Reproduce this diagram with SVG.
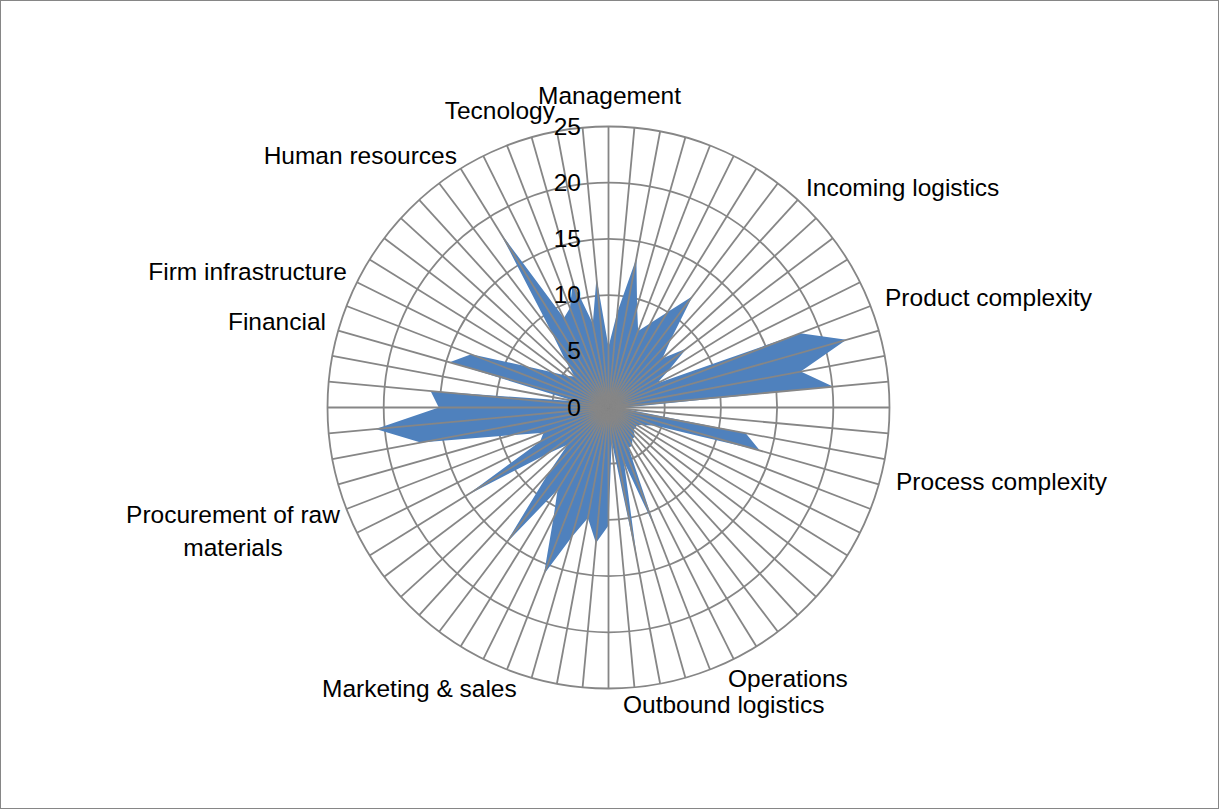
<svg xmlns="http://www.w3.org/2000/svg" width="1219" height="809" viewBox="0 0 1219 809">
<style>
.grid{fill:none;stroke:#868686;stroke-width:1.8}
.lbl{font-family:"Liberation Sans",Arial,sans-serif;font-size:24.5px;fill:#000}
.tick{font-family:"Liberation Sans",Arial,sans-serif;font-size:24.5px;fill:#000;text-anchor:end}
</style>
<defs>
<line id="sp" x1="608.5" y1="407.5" x2="608.5" y2="126.5" stroke="#868686" stroke-width="1.8"/>
</defs>
<rect x="0.5" y="0.5" width="1218" height="808" fill="#fff" stroke="#868686" stroke-width="1"/>
<g id="rings" class="grid">
<circle cx="608.5" cy="407.5" r="56.2"/>
<circle cx="608.5" cy="407.5" r="112.4"/>
<circle cx="608.5" cy="407.5" r="168.6"/>
<circle cx="608.5" cy="407.5" r="224.8"/>
<circle cx="608.5" cy="407.5" r="281"/>
</g>
<g id="series">
<polygon fill="#4F81BD" points="608.5,346.8 617.32,312.37 636.38,258.34 637.11,306.96 638.14,330.99 650.59,322.98 667.67,311.94 692.5,296.27 671.35,338.56 662.49,358.28 686.54,348.57 668.7,370.22 656.79,383.45 800.3,333.2 846.34,339.83 800.75,371.56 833.46,386.65 625.36,407.5 625.29,409.06 745.51,433.11 759.85,450.56 655.66,425.77 643.72,425.03 637.17,425.25 635.41,427.82 633.42,430.22 635,436.57 632.21,438.89 632.17,445.73 628.54,447.75 655.6,529.07 623.88,461.56 637.42,562.18 611.61,441.08 608.5,525.52 595.95,542.92 587.85,517.99 571.59,537.23 543.94,574.15 553.39,518.18 557.61,489.68 505.54,543.84 547.92,473.95 567.8,444.61 546.61,454.24 466.11,495.67 540.08,441.57 543.52,432.67 511.2,435.18 420.68,442.61 375.71,429.07 438.78,407.5 430.54,391.01 575.35,401.3 449.58,362.28 471.2,354.31 524.99,365.92 551.16,372 566.34,375.66 574.45,376.46 565.34,360.15 551.6,332.15 499.62,231.66 563.91,317.95 569.93,307.93 572.82,282.1 592.8,323.54 596.47,277.68"/>
</g>
<g id="spokes">
<use href="#sp"/>
<use href="#sp" transform="rotate(5.294 608.5 407.5)"/>
<use href="#sp" transform="rotate(10.588 608.5 407.5)"/>
<use href="#sp" transform="rotate(15.882 608.5 407.5)"/>
<use href="#sp" transform="rotate(21.176 608.5 407.5)"/>
<use href="#sp" transform="rotate(26.471 608.5 407.5)"/>
<use href="#sp" transform="rotate(31.765 608.5 407.5)"/>
<use href="#sp" transform="rotate(37.059 608.5 407.5)"/>
<use href="#sp" transform="rotate(42.353 608.5 407.5)"/>
<use href="#sp" transform="rotate(47.647 608.5 407.5)"/>
<use href="#sp" transform="rotate(52.941 608.5 407.5)"/>
<use href="#sp" transform="rotate(58.235 608.5 407.5)"/>
<use href="#sp" transform="rotate(63.529 608.5 407.5)"/>
<use href="#sp" transform="rotate(68.824 608.5 407.5)"/>
<use href="#sp" transform="rotate(74.118 608.5 407.5)"/>
<use href="#sp" transform="rotate(79.412 608.5 407.5)"/>
<use href="#sp" transform="rotate(84.706 608.5 407.5)"/>
<use href="#sp" transform="rotate(90 608.5 407.5)"/>
<use href="#sp" transform="rotate(95.294 608.5 407.5)"/>
<use href="#sp" transform="rotate(100.588 608.5 407.5)"/>
<use href="#sp" transform="rotate(105.882 608.5 407.5)"/>
<use href="#sp" transform="rotate(111.176 608.5 407.5)"/>
<use href="#sp" transform="rotate(116.471 608.5 407.5)"/>
<use href="#sp" transform="rotate(121.765 608.5 407.5)"/>
<use href="#sp" transform="rotate(127.059 608.5 407.5)"/>
<use href="#sp" transform="rotate(132.353 608.5 407.5)"/>
<use href="#sp" transform="rotate(137.647 608.5 407.5)"/>
<use href="#sp" transform="rotate(142.941 608.5 407.5)"/>
<use href="#sp" transform="rotate(148.235 608.5 407.5)"/>
<use href="#sp" transform="rotate(153.529 608.5 407.5)"/>
<use href="#sp" transform="rotate(158.824 608.5 407.5)"/>
<use href="#sp" transform="rotate(164.118 608.5 407.5)"/>
<use href="#sp" transform="rotate(169.412 608.5 407.5)"/>
<use href="#sp" transform="rotate(174.706 608.5 407.5)"/>
<use href="#sp" transform="rotate(180 608.5 407.5)"/>
<use href="#sp" transform="rotate(185.294 608.5 407.5)"/>
<use href="#sp" transform="rotate(190.588 608.5 407.5)"/>
<use href="#sp" transform="rotate(195.882 608.5 407.5)"/>
<use href="#sp" transform="rotate(201.176 608.5 407.5)"/>
<use href="#sp" transform="rotate(206.471 608.5 407.5)"/>
<use href="#sp" transform="rotate(211.765 608.5 407.5)"/>
<use href="#sp" transform="rotate(217.059 608.5 407.5)"/>
<use href="#sp" transform="rotate(222.353 608.5 407.5)"/>
<use href="#sp" transform="rotate(227.647 608.5 407.5)"/>
<use href="#sp" transform="rotate(232.941 608.5 407.5)"/>
<use href="#sp" transform="rotate(238.235 608.5 407.5)"/>
<use href="#sp" transform="rotate(243.529 608.5 407.5)"/>
<use href="#sp" transform="rotate(248.824 608.5 407.5)"/>
<use href="#sp" transform="rotate(254.118 608.5 407.5)"/>
<use href="#sp" transform="rotate(259.412 608.5 407.5)"/>
<use href="#sp" transform="rotate(264.706 608.5 407.5)"/>
<use href="#sp" transform="rotate(270 608.5 407.5)"/>
<use href="#sp" transform="rotate(275.294 608.5 407.5)"/>
<use href="#sp" transform="rotate(280.588 608.5 407.5)"/>
<use href="#sp" transform="rotate(285.882 608.5 407.5)"/>
<use href="#sp" transform="rotate(291.176 608.5 407.5)"/>
<use href="#sp" transform="rotate(296.471 608.5 407.5)"/>
<use href="#sp" transform="rotate(301.765 608.5 407.5)"/>
<use href="#sp" transform="rotate(307.059 608.5 407.5)"/>
<use href="#sp" transform="rotate(312.353 608.5 407.5)"/>
<use href="#sp" transform="rotate(317.647 608.5 407.5)"/>
<use href="#sp" transform="rotate(322.941 608.5 407.5)"/>
<use href="#sp" transform="rotate(328.235 608.5 407.5)"/>
<use href="#sp" transform="rotate(333.529 608.5 407.5)"/>
<use href="#sp" transform="rotate(338.824 608.5 407.5)"/>
<use href="#sp" transform="rotate(344.118 608.5 407.5)"/>
<use href="#sp" transform="rotate(349.412 608.5 407.5)"/>
<use href="#sp" transform="rotate(354.706 608.5 407.5)"/>
</g>
<g id="ticks" class="tick">
<text x="581" y="135">25</text>
<text x="581" y="191">20</text>
<text x="581" y="247">15</text>
<text x="581" y="303">10</text>
<text x="581" y="359">5</text>
<text x="581" y="416">0</text>
</g>
<g id="categories" class="lbl">
<text x="609.5" y="104" text-anchor="middle">Management</text>
<text x="555" y="119" text-anchor="end">Tecnology</text>
<text x="457" y="164" text-anchor="end">Human resources</text>
<text x="347" y="280" text-anchor="end">Firm infrastructure</text>
<text x="326" y="330" text-anchor="end">Financial</text>
<text x="233" y="523" text-anchor="middle">Procurement of raw</text>
<text x="233" y="556" text-anchor="middle">materials</text>
<text x="322" y="697">Marketing &amp; sales</text>
<text x="623" y="713">Outbound logistics</text>
<text x="728" y="687">Operations</text>
<text x="896" y="490">Process complexity</text>
<text x="885" y="306">Product complexity</text>
<text x="806" y="196">Incoming logistics</text>
</g>
</svg>
